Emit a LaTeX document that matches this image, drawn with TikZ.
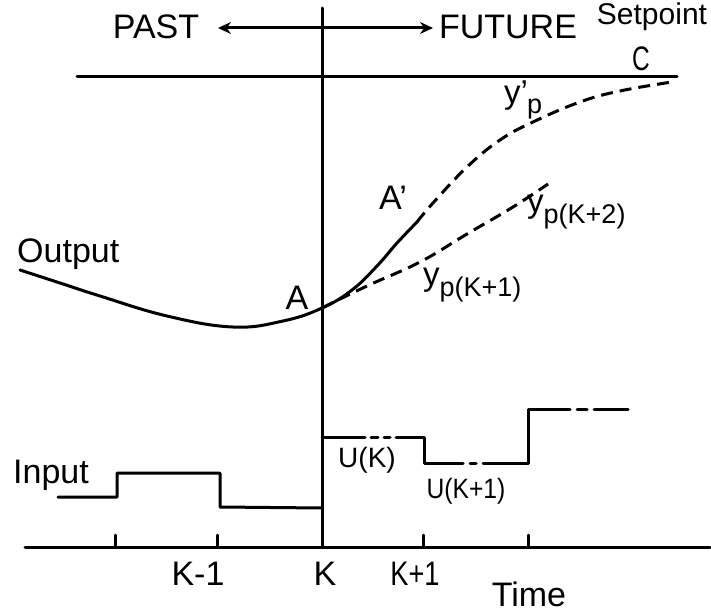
\documentclass[tikz,border=0pt]{standalone}
\usepackage{fontspec}
\usepackage{graphicx}
\setmainfont{Liberation Sans}
\usetikzlibrary{arrows.meta}
\newcommand{\ylab}[1]{{\fontsize{33}{36}\selectfont y\raisebox{-11pt}{\fontsize{27}{30}\selectfont #1}}}
\begin{document}
\begin{tikzpicture}[x=1pt,y=-1pt,
  ln/.style={line width=3pt, line cap=round, line join=round},
  dsh/.style={line width=3pt, line cap=butt, dash pattern=on 12pt off 7pt},
  big/.style={font=\fontsize{34}{40}\selectfont, inner sep=0pt},
  mid/.style={font=\fontsize{28}{34}\selectfont, inner sep=0pt},
  >={Stealth[length=13pt,width=12pt]},
]
\useasboundingbox (0,0) rectangle (711,612);

% main lines
\coordinate (vtop) at (322,8);
\coordinate (vbot) at (322,547);
\draw[ln] (vtop) -- (vbot);
\coordinate (sl) at (77,77);
\coordinate (sr) at (677,77);
\draw[ln] (sl) -- (sr);
\coordinate (axl) at (25,547);
\coordinate (axr) at (710,547);
\draw[ln] (axl) -- (axr);
\foreach \x [count=\i] in {115,217,423,528}{
  \coordinate (tb\i) at (\x,547);
  \coordinate (tt\i) at (\x,535);
  \draw[ln] (tb\i) -- (tt\i);
}

% header
\node[big] (past) at (156,27) {PAST};
\node[big] (future) at (508,27) {FUTURE};
\coordinate (al) at (218,28);
\coordinate (ar) at (433,28);
\draw[ln, <->] (al) -- (ar);
\node[font=\fontsize{30}{33}\selectfont, inner sep=0pt, anchor=base] (sp) at (652,25) {Setpoint};
\node[big] (c) at (641,59) {\scalebox{0.72}[1]{C}};

% output curve
\draw[ln] plot[smooth, tension=0.7] coordinates {(20,270) (60,283) (100,296) (167,316) (233,327) (283,321) (322,308) (352,290) (377,266) (397,243) (417,222)};
\draw[dsh] plot[smooth, tension=0.7] coordinates {(417,222) (433,203) (467,167) (500,140) (533,122) (580,102) (620,91) (672,82)};
\draw[dsh] plot[smooth, tension=0.7] coordinates {(322,308) (367,286) (420,262) (467,234) (513,207) (548,184)};

\node[big, anchor=base west] (out) at (17,262) {Output};
\node[big] (a) at (297,298) {A};
\node[big] (ap) at (393,198) {A’};
\node[inner sep=0pt, anchor=base west] (yp) at (504,104) {{\fontsize{33}{36}\selectfont y’\kern-1pt\raisebox{-10pt}{\fontsize{27}{30}\selectfont p}}};
\node[inner sep=0pt, anchor=base west] (yk2) at (527,212) {\ylab{p(K+2)}};
\node[inner sep=0pt, anchor=base west] (yk1) at (423,285) {\ylab{p(K+1)}};

% input
\node[big, anchor=base west] (inp) at (13,483) {Input};
\draw[ln] (58,497) -- (117,497) -- (117,473) -- (220,473) -- (220,507) -- (322,508);
\draw[ln] (322,437) -- (365,437);
\draw[ln] (371,437) -- (378,437);
\draw[ln] (384,437) -- (390,437);
\draw[ln] (396,437) -- (424,437) -- (424,463) -- (463,463);
\draw[ln] (470,463) -- (476,463);
\draw[ln] (483,463) -- (528,463) -- (528,409) -- (570,409);
\draw[ln] (577,409) -- (587,409);
\draw[ln] (594,409) -- (628,409);
\node[mid] (uk) at (367,460) {U(K)};
\node[mid] (uk1) at (466,491) {\scalebox{0.88}[1]{U(K+1)}};

% axis labels
\node[big] (km1) at (198,574) {K-1};
\node[big] (k) at (325,574) {K};
\node[big] (kp1) at (415,574) {\scalebox{0.8}[1]{K+1}};
\node[big] (time) at (529,594) {Time};
\end{tikzpicture}
\end{document}
